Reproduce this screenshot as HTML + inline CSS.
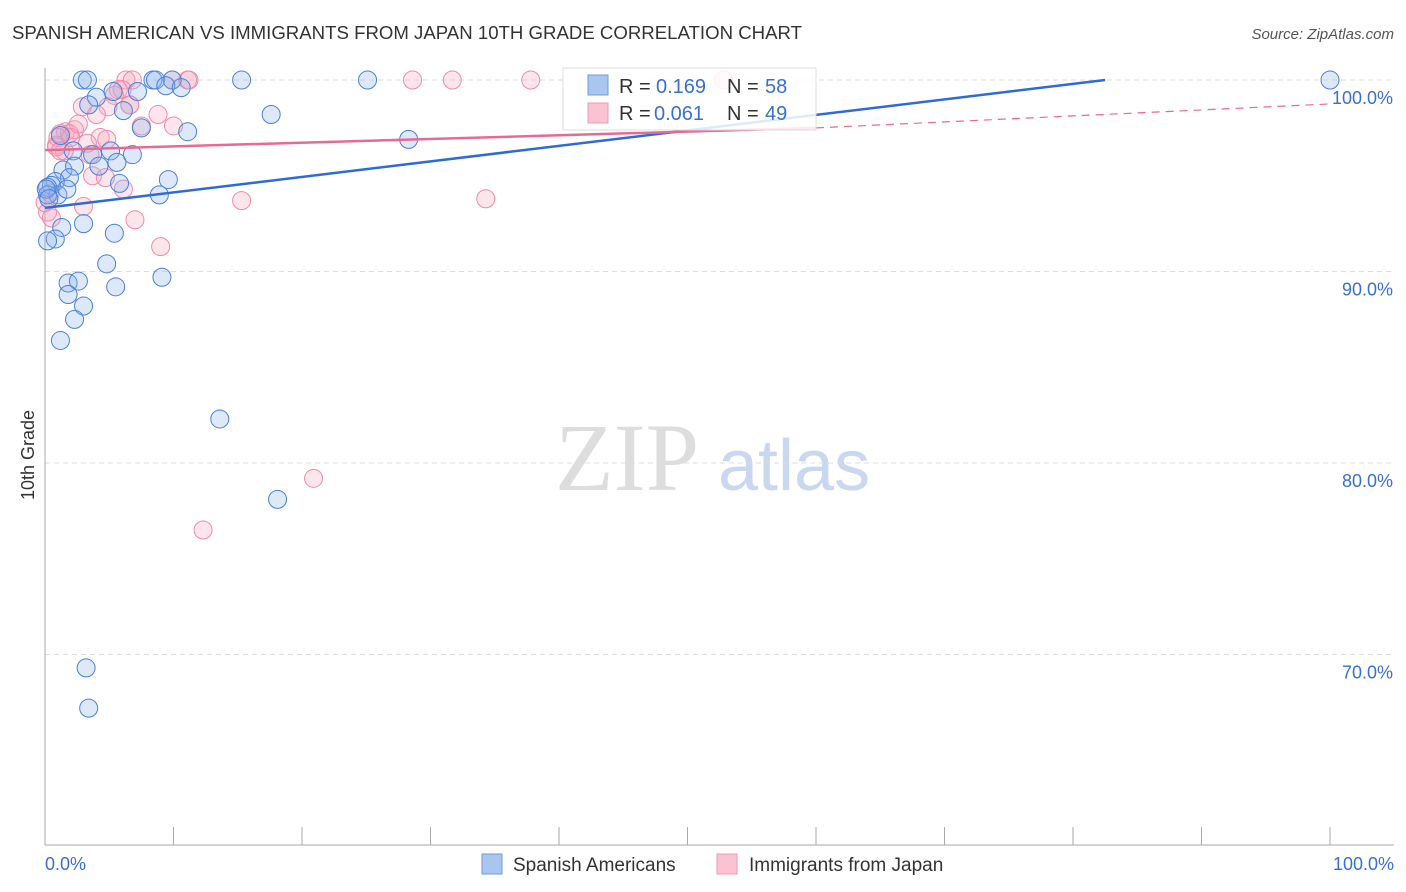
<!DOCTYPE html>
<html><head><meta charset="utf-8"><style>
body{margin:0;background:#fff;font-family:"Liberation Sans",sans-serif}
#wrap{position:relative;width:1406px;height:892px;overflow:hidden}
</style></head><body>
<div id="wrap">
<svg id="svg" width="1406" height="892" xmlns="http://www.w3.org/2000/svg">
<text x="12" y="39" font-size="18" fill="#333" textLength="790" lengthAdjust="spacingAndGlyphs">SPANISH AMERICAN VS IMMIGRANTS FROM JAPAN 10TH GRADE CORRELATION CHART</text>
<text x="1394" y="39" font-size="15" fill="#555" font-style="italic" text-anchor="end">Source: ZipAtlas.com</text>
<text x="34" y="455" font-size="18" fill="#333" text-anchor="middle" transform="rotate(-90 34 455)">10th Grade</text>
<text x="555" y="490" font-size="96" fill="#ddd" font-family="Liberation Serif,serif">ZIP</text>
<text x="718" y="490" font-size="72" fill="#c8d8f0">atlas</text>
<g id="grid"></g><g id="pts"></g><g id="lines"></g>
<g>
<rect x="563" y="68" width="253" height="62" fill="#fff" fill-opacity="0.85" stroke="#ddd"/>
<rect x="588" y="75" width="20" height="20" fill="#a9c6f0" stroke="#6f9be0"/>
<text x="619" y="93" font-size="20" fill="#333">R = </text>
<text x="656" y="93" font-size="20" fill="#3a6fd0">0.169</text>
<text x="727" y="93" font-size="20" fill="#333">N = </text>
<text x="765" y="93" font-size="20" fill="#3a6fd0">58</text>
<rect x="588" y="103" width="20" height="20" fill="#f9c3d3" stroke="#f09ab5"/>
<text x="619" y="120" font-size="20" fill="#333">R = </text>
<text x="654" y="120" font-size="20" fill="#3a6fd0">0.061</text>
<text x="727" y="120" font-size="20" fill="#333">N = </text>
<text x="765" y="120" font-size="20" fill="#3a6fd0">49</text>
</g>
<g>
<rect x="482" y="854" width="20" height="20" fill="#a9c6f0" stroke="#6f9be0"/>
<text x="513" y="871" font-size="19" fill="#333">Spanish Americans</text>
<rect x="717" y="854" width="20" height="20" fill="#f9c3d3" stroke="#f09ab5"/>
<text x="749" y="871" font-size="19" fill="#333">Immigrants from Japan</text>
</g>
<text x="45" y="870" font-size="18" fill="#3a6fd0">0.0%</text>
<text x="1394" y="870" font-size="18" fill="#3a6fd0" text-anchor="end">100.0%</text>
</svg></div>
<script>
const yTicks=[100,90,80,70];
const yTickLabels=["100.0%","90.0%","80.0%","70.0%"];
const blueX=[2.9,3.3,8.4,8.6,9.9,15.3,25.1,100,9.4,10.6,7.2,4.0,5.3,6.1,17.6,3.4,7.5,11.1,28.3,1.2,2.2,3.7,5.1,6.8,5.6,4.2,1.4,2.3,1.9,0.8,0.5,0.2,1.0,1.7,5.8,8.9,9.6,0.2,1.3,3.0,0.8,0.2,5.4,4.8,9.1,5.5,1.8,2.6,1.8,3.0,2.3,1.2,13.6,18.1,3.2,3.4,0.1,0.3];
const blueY=[100,100,100,100,100,100,100,100,99.7,99.6,99.4,99.1,99.4,98.4,98.2,98.7,97.5,97.3,96.9,97.1,96.3,96.1,96.3,96.1,95.7,95.5,95.3,95.5,94.9,94.7,94.5,94.4,94.0,94.3,94.6,94.0,94.8,94.0,92.3,92.5,91.7,91.6,92.0,90.4,89.7,89.2,89.4,89.5,88.8,88.2,87.5,86.4,82.3,78.1,69.3,67.2,94.3,93.8];
const pinkX=[6.3,6.8,9.9,11.1,11.2,28.6,31.7,37.8,52.8,5.7,6.0,5.4,2.9,4.9,4.0,8.8,6.6,7.5,10.0,1.6,2.3,1.9,1.2,4.3,4.8,0.9,1.5,3.5,0.9,3.7,4.7,6.1,15.3,34.3,3.0,7.0,9.0,20.9,12.3,0.2,0.5,0,0.4,1.0,2.0,3.3,1.2,6.6,2.6];
const pinkY=[100,100,100,100,100,100,100,100,100,99.5,99.5,99.2,98.6,98.6,98.2,98.2,98.7,97.6,97.6,97.3,97.4,97.2,97.2,97.0,96.9,96.6,96.3,96.1,96.5,95.0,94.9,94.3,93.7,93.8,93.4,92.7,91.3,79.2,76.5,93.1,92.8,93.6,94.1,97.0,97.0,96.7,96.3,98.7,97.7];
const blueLine=[0,93.32,82.5,100];
const pinkLine=[0,96.34,60,97.5,100,98.75];
const X=v=>45+v*12.85, Y=v=>80+(100-v)*19.15;
const NS="http://www.w3.org/2000/svg";
function mk(t,a,p){const e=document.createElementNS(NS,t);for(const k in a)e.setAttribute(k,a[k]);p.appendChild(e);return e;}
const g=document.getElementById('grid');
yTicks.forEach((t,i)=>{
 const l=mk('line',{x1:45,x2:1394,y1:Y(t),y2:Y(t),stroke:'#ddd','stroke-dasharray':'5,4'},g);
 
 
 const tx=mk('text',{x:1393,y:Y(t)+24,'font-size':18,fill:'#3a6fd0','text-anchor':'end'},g);
 tx.textContent=yTickLabels[i];
 
 
});
const ax=mk('line',{x1:45,x2:45,y1:68,y2:845,stroke:'#aaa'},g);


const bx=mk('line',{x1:45,x2:1394,y1:845,y2:845,stroke:'#aaa'},g);


for(let i=0;i<=10;i++){const t=mk('line',{x1:X(i*10),x2:X(i*10),y1:827,y2:845,stroke:'#aaa'},g);
 
 }
const p=document.getElementById('pts');
pinkX.forEach((x,i)=>{const c=mk('circle',{cx:X(x),cy:Y(pinkY[i]),r:9,fill:'#f7a8c0','fill-opacity':0.3,stroke:'#f08aaa','stroke-width':1},p);
 
 });
blueX.forEach((x,i)=>{const c=mk('circle',{cx:X(x),cy:Y(blueY[i]),r:9,fill:'#8fb4ec','fill-opacity':0.3,stroke:'#4a80d8','stroke-width':1},p);
 
 });
const L=document.getElementById('lines');
const b=mk('line',{x1:X(blueLine[0]),y1:Y(blueLine[1]),x2:X(blueLine[2]),y2:Y(blueLine[3]),stroke:'#2f6ad6','stroke-width':2.5},L);


const pk=mk('line',{x1:X(pinkLine[0]),y1:Y(pinkLine[1]),x2:X(pinkLine[2]),y2:Y(pinkLine[3]),stroke:'#e86a92','stroke-width':2.5},L);


const pd=mk('line',{x1:X(pinkLine[2]),y1:Y(pinkLine[3]),x2:X(pinkLine[4]),y2:Y(pinkLine[5]),stroke:'#e86a92','stroke-width':1.2,'stroke-dasharray':'8,6'},L);


</script></body></html>
